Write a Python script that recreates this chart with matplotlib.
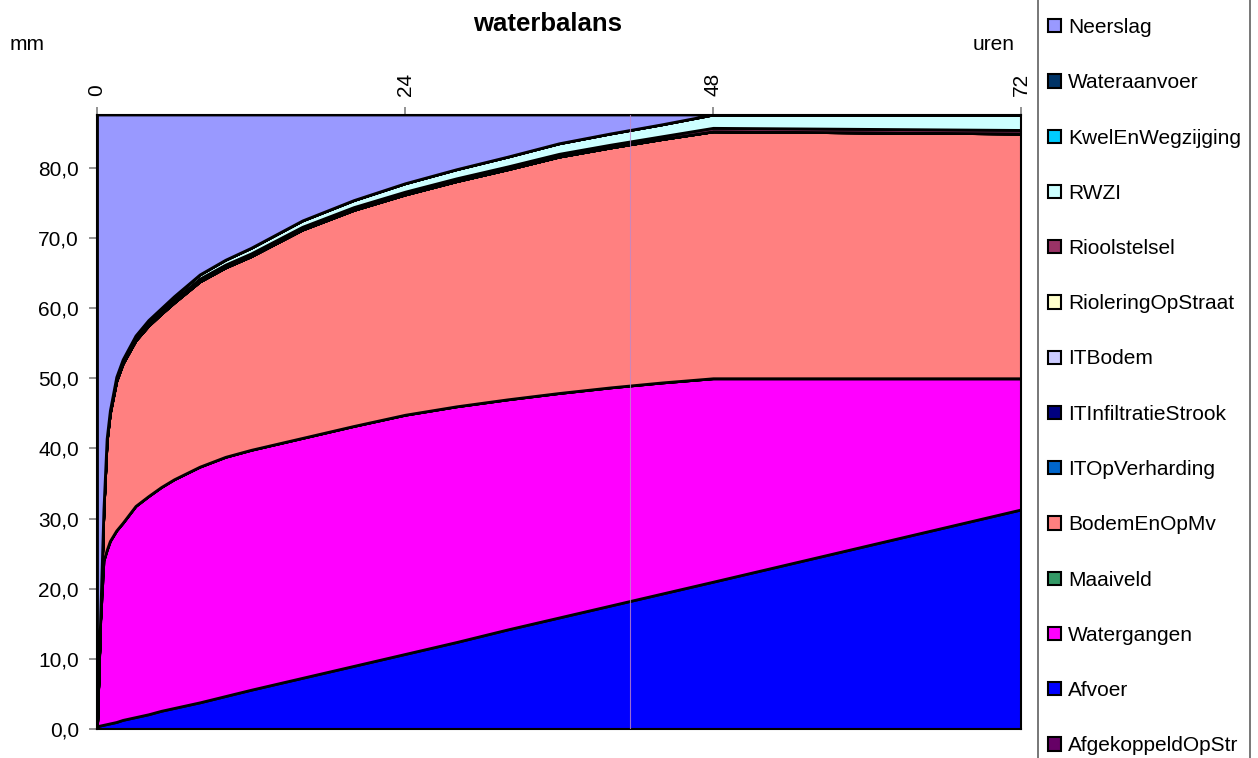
import matplotlib
matplotlib.use('Agg')
import matplotlib.pyplot as plt
from matplotlib.patches import Patch, Rectangle

plt.rcParams.update({
    'font.family': ['Liberation Sans', 'DejaVu Sans'],
    'font.size': 15,
})

# ---------------------------------------------------------------------------
# Data (mm per series, stacked)
# ---------------------------------------------------------------------------
HOURS = [0, 0.25, 0.5, 0.75, 1, 1.5, 2, 3, 4, 5, 6, 8, 10, 12,
         16, 20, 24, 28, 32, 36, 40, 44, 48, 72]

ZEROS = [0.0] * len(HOURS)

AFVOER = [0.4, 0.5, 0.6, 0.7, 0.8, 1.0, 1.3, 1.7, 2.1, 2.6, 3.0, 3.8, 4.7, 5.6,
          7.3, 9.0, 10.7, 12.4, 14.2, 15.9, 17.6, 19.3, 21.0, 31.3]
WATERGANGEN = [0.0, 15.0, 23.4, 24.8, 26.0, 27.3, 28.1, 30.1, 31.1, 31.9, 32.6, 33.6, 34.1, 34.2,
               34.2, 34.2, 34.1, 33.6, 32.8, 32.0, 31.1, 30.1, 29.0, 18.7]
BODEM_EN_OP_MV = [0.0, 0.5, 7.0, 15.5, 18.2, 21.3, 22.7, 23.6, 24.3, 24.7, 25.2, 26.4, 27.0, 27.6,
                  29.7, 30.8, 31.4, 32.1, 32.8, 33.7, 34.2, 34.7, 35.2, 34.9]
RIOOLSTELSEL = [0.0, 0.1, 0.2, 0.3, 0.3, 0.4, 0.4, 0.4, 0.4, 0.4, 0.4, 0.4, 0.4, 0.4,
                0.4, 0.4, 0.4, 0.4, 0.4, 0.4, 0.4, 0.4, 0.5, 0.5]
RWZI = [0.0, 0.0, 0.1, 0.1, 0.1, 0.2, 0.2, 0.3, 0.4, 0.4, 0.5, 0.6, 0.7, 0.8,
        0.9, 1.0, 1.2, 1.3, 1.4, 1.5, 1.6, 1.7, 1.9, 2.2]
NEERSLAG = [87.2, 71.5, 56.3, 46.2, 42.2, 37.4, 34.9, 31.5, 29.3, 27.6, 25.9, 22.8, 20.7, 19.0,
            15.1, 12.2, 9.8, 7.8, 6.0, 4.1, 2.7, 1.4, 0.0, 0.0]

# legend order (top of stack first)
SERIES = [
    ('Neerslag', NEERSLAG, '#9999FF'),
    ('Wateraanvoer', ZEROS, '#003366'),
    ('KwelEnWegzijging', ZEROS, '#00CCFF'),
    ('RWZI', RWZI, '#CCFFFF'),
    ('Rioolstelsel', RIOOLSTELSEL, '#993366'),
    ('RioleringOpStraat', ZEROS, '#FFFFCC'),
    ('ITBodem', ZEROS, '#CCCCFF'),
    ('ITInfiltratieStrook', ZEROS, '#000080'),
    ('ITOpVerharding', ZEROS, '#0066CC'),
    ('BodemEnOpMv', BODEM_EN_OP_MV, '#FF8080'),
    ('Maaiveld', ZEROS, '#339966'),
    ('Watergangen', WATERGANGEN, '#FF00FF'),
    ('Afvoer', AFVOER, '#0000FF'),
    ('AfgekoppeldOpStr', ZEROS, '#660066'),
]

X_TICKS = [0, 24, 48, 72]
Y_TICKS = [0, 10, 20, 30, 40, 50, 60, 70, 80]
Y_MAX = 87.6
MARKER_HOUR = 41.5   # faint vertical line in the original

W, H = 1258, 758
fig = plt.figure(figsize=(W / 100, H / 100), dpi=100)
ax = fig.add_axes([97 / W, 1 - 729 / H, (1021 - 97) / W, (729 - 114.5) / H])

stack = list(reversed(SERIES))
ax.stackplot(HOURS, *[s[1] for s in stack], colors=[s[2] for s in stack],
             edgecolor='black', linewidth=2.0)
ax.axvline(MARKER_HOUR, color='#c088c8', linewidth=0.8, alpha=0.8, zorder=3)

ax.set_xlim(0, 72)
ax.set_ylim(0, Y_MAX)
ax.xaxis.tick_top()
ax.set_xticks(X_TICKS)
ax.set_xticklabels([str(h) for h in X_TICKS], rotation=90)
ax.set_yticks(Y_TICKS)
ax.set_yticklabels([f'{v:.1f}'.replace('.', ',') for v in Y_TICKS])
ax.tick_params(axis='both', direction='out', length=6, width=1.2, color='#808080', pad=7)
for sp in ax.spines.values():
    sp.set_color('black')
    sp.set_linewidth(1.5)

fig.text(548 / W, 1 - 24 / H, 'waterbalans', ha='center', va='center',
         fontsize=18.5, fontweight='bold')
fig.text(10 / W, 1 - 45 / H, 'mm', ha='left', va='center')
fig.text(1015 / W, 1 - 45 / H, 'uren', ha='right', va='center')

# legend box (runs off the figure edges like the original)
fig.patches.append(Rectangle((1038 / W, -0.02), (1250 - 1038) / W, 1.04,
                             transform=fig.transFigure, facecolor='white',
                             edgecolor='#606060', linewidth=1.2))
handles = [Patch(facecolor=c, edgecolor='black', linewidth=1.5) for _, _, c in SERIES]
fig.legend(handles, [s[0] for s in SERIES], loc='upper left',
           bbox_to_anchor=(1048 / W, 1 - 18 / H), frameon=False,
           handlelength=0.6, handleheight=0.6, handletextpad=0.35,
           labelspacing=1.74, borderpad=0, borderaxespad=0)

fig.savefig('out.png', dpi=100)
